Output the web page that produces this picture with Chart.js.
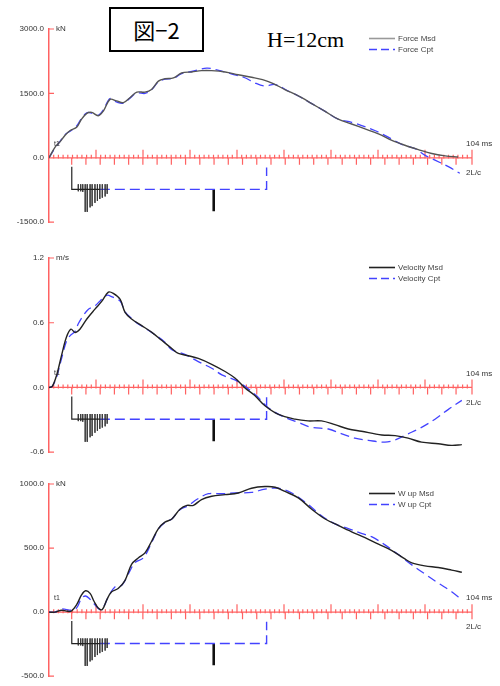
<!DOCTYPE html>
<html>
<head>
<meta charset="utf-8">
<script src="https://cdn.jsdelivr.net/npm/chart.js@4.4.1/dist/chart.umd.min.js"></script>
<style>
  body { margin: 0; background: #fff; width: 500px; height: 686px; position: relative; overflow: hidden; }
  canvas { position: absolute; left: 0; }
  #fig { position: absolute; left: 109px; top: 7px; width: 91px; height: 41px; border: 2px solid #000;
         font: 22px "Noto Sans CJK JP"; text-align: center; line-height: 41px; }
  #height { position: absolute; left: 267px; top: 27px; font: 22px "Liberation Serif"; color: #000; }
</style>
</head>
<body>
<div id="fig">図&#8722;2</div>
<div id="height">H=12cm</div>
<canvas id="force" width="500" height="232" style="top:0px"></canvas>
<canvas id="velocity" width="500" height="230" style="top:232px"></canvas>
<canvas id="wave" width="500" height="224" style="top:462px"></canvas>
<script>
const RED = '#ff6262';
const BLUE = '#4343ff';
const timeEnd = 104;

// Force (kN)
const forceMsdTime = [0,1.5,2.7,3.9,5.2,6.8,8.0,9.3,10.5,12.1,13.4,15.0,16.6,18.3,19.9,21.6,23.6,25.2,26.9,28.5,30.6,32.6,35.1,37.5,40.0,43.3,46.5,49.8,52.5,55.0,58.0,61.3,64.6,67.9,71.1,74.4,77.7,81.0,84.3,87.5,90.8,94.1,97.4,100.6];
const forceMsd = [0,250,370,520,635,710,900,1035,1057,980,1095,1360,1325,1285,1400,1530,1530,1590,1785,1840,1860,1975,2000,2030,2030,2000,1935,1875,1820,1735,1590,1440,1263,1080,900,788,673,558,406,292,191,99,46,20];
const forceCptTime = [0,1.5,2.7,3.9,5.2,6.8,8.0,9.3,10.5,12.1,13.4,15.0,16.6,18.3,19.9,21.6,23.6,25.2,26.9,28.5,30.6,32.6,35.1,38.8,41.5,45.0,48.0,50.6,53.1,55.6,58.8,61.3,64.6,67.9,71.1,74.4,76.9,80.1,83.4,86.7,90.0,92.4,94.9,98.2,101.0];
const forceCpt = [0,230,380,540,620,740,920,1050,1040,990,1120,1380,1300,1270,1390,1510,1500,1580,1770,1830,1850,1960,2010,2090,2040,1950,1870,1745,1670,1707,1555,1440,1263,1080,900,827,751,636,482,314,214,62,-53,-207,-360];

// Velocity (m/s)
const velMsdTime = [0,0.8,1.9,3.1,4.3,5.4,6.4,7.6,9.3,11.3,13.0,14.6,15.8,17.5,18.7,20.3,22.8,25.2,27.7,30.2,31.8,34.3,36.7,40.0,43.3,45.7,48.2,50.6,53.1,56.4,60.5,63.7,67.0,70.3,73.6,76.8,81.8,85.1,88.3,91.6,95.7,99.0,101.5];
const velMsd = [0,0.01,0.117,0.30,0.467,0.54,0.51,0.54,0.635,0.726,0.80,0.884,0.872,0.817,0.696,0.635,0.573,0.513,0.437,0.361,0.315,0.294,0.269,0.215,0.148,0.087,-0.005,-0.075,-0.17,-0.25,-0.294,-0.31,-0.31,-0.345,-0.385,-0.406,-0.44,-0.446,-0.47,-0.507,-0.522,-0.537,-0.53];
const velCptTime = [0,0.8,1.9,3.1,4.3,5.2,6.4,7.2,8.4,9.7,11.3,12.5,14.2,15.5,17.5,18.7,20.3,21.5,23.6,26.0,28.5,30.2,33.4,36.7,40.0,42.5,45.7,48.2,51.1,53.9,57.2,61.3,64.6,68.7,72.0,75.2,78.5,82.6,85.1,88.3,91.6,94.9,98.2,101.5];
const velCpt = [0,0.01,0.10,0.27,0.43,0.48,0.52,0.59,0.665,0.726,0.756,0.80,0.854,0.84,0.80,0.70,0.64,0.60,0.55,0.49,0.42,0.35,0.306,0.24,0.178,0.117,0.07,0.01,-0.08,-0.187,-0.263,-0.324,-0.37,-0.385,-0.43,-0.47,-0.49,-0.507,-0.486,-0.43,-0.37,-0.294,-0.203,-0.12];

// Wave up (kN)
const wupMsdTime = [0,1.5,3.1,4.3,5.5,6.8,8.0,9.0,10.1,11.1,12.1,13.1,14.2,15.4,17.0,18.7,20.3,22.0,23.6,25.2,26.9,28.5,30.2,32.2,33.9,35.5,37.5,40.0,43.3,46.5,49.8,53.1,55.6,58.0,61.3,64.6,67.9,71.1,74.4,77.7,81.0,84.3,87.5,89.2,92.4,95.7,99.0,101.5];
const wupMsd = [0,0,15,8,8,58,134,167,146,83,33,20,96,159,184,248,373,424,462,551,652,702,727,803,833,833,879,904,917,930,967,980,975,942,892,803,727,677,627,581,530,480,415,385,361,348,328,311];
const wupCptTime = [0,1.5,3.1,5.5,6.8,8.0,9.0,10.1,11.3,12.5,13.4,14.6,16.2,17.9,19.5,21.1,23.2,25.2,26.9,28.5,30.2,32.2,34.2,36.3,39.2,42.5,45.7,49.8,53.1,56.4,59.7,63.7,67.0,70.3,73.6,76.8,79.3,82.6,85.9,89.2,92.4,95.7,99.0,101.5];
const wupCpt = [0,0,25,15,33,108,126,101,58,20,40,121,197,210,298,386,424,540,650,700,727,800,830,879,924,924,930,934,960,967,930,841,752,689,652,614,589,525,449,369,298,227,159,96];

// pile / soil diagram under the axis, depth in units of one y-axis step
const diagramBlackTime = [5.6, 5.6, 12.5];
const diagramBlackDepth = [-0.14, -0.49, -0.49];
const diagramSoilTime = [12.5, 53.5, 53.5];
const diagramSoilDepth = [-0.49, -0.49, -0.15];
const hatchTime = [7.2,7.8,8.3,8.9,9.4,10.1,10.6,11.3,11.9,12.5,13.1,13.8,14.3];
const hatchTop = -0.41;
const hatchDepth = [-0.52,-0.52,-0.53,-0.84,-0.84,-0.77,-0.75,-0.70,-0.67,-0.64,-0.62,-0.60,-0.56];
const toeBarTime = 40.5;
const toeBarDepth = [-0.49, -0.83];

// ruler under the curves
const rulerMajor = 9, rulerMinor = 90;
const segStart = 5.58, segStep = 3.5;

function series(times, values) {
  return times.map((t, i) => ({x: t, y: values[i]}));
}

function diagramSets(step) {
  const s = d => d * step;
  const hatch = [];
  hatchTime.forEach((t, i) => {
    hatch.push({x: t, y: s(hatchTop)}, {x: t, y: s(hatchDepth[i])}, {x: t, y: null});
  });
  return [
    {data: series(diagramBlackTime, diagramBlackDepth.map(s)), borderColor: '#222', borderWidth: 1.2},
    {data: hatch, borderColor: '#333', borderWidth: 0.8, spanGaps: false},
    {data: series(diagramSoilTime, diagramSoilDepth.map(s)), borderColor: BLUE, borderWidth: 1.4, borderDash: [10, 5]},
    {data: series([toeBarTime, toeBarTime], toeBarDepth.map(s)), borderColor: '#111', borderWidth: 2.6},
  ].map(d => Object.assign({pointRadius: 0, tension: 0, fill: false}, d));
}

const rulerPlugin = {
  id: 'ruler',
  beforeDatasetsDraw(chart) {
    const {ctx, chartArea: a, scales: {x, y}} = chart;
    const y0 = y.getPixelForValue(0);
    ctx.save();
    ctx.strokeStyle = RED;
    ctx.lineWidth = 1.2;
    ctx.beginPath();
    ctx.moveTo(x.getPixelForValue(0), y0);
    ctx.lineTo(x.getPixelForValue(timeEnd), y0);
    for (let k = 1; k < rulerMinor; k++) {
      const px = x.getPixelForValue(k * timeEnd / rulerMinor);
      ctx.moveTo(px, y0 - 3); ctx.lineTo(px, y0 + 1);
    }
    for (let k = 1; k <= rulerMajor; k++) {
      const px = x.getPixelForValue(k * timeEnd / rulerMajor);
      ctx.moveTo(px, y0 - 8); ctx.lineTo(px, y0);
    }
    const pxEnd = x.getPixelForValue(timeEnd);
    ctx.moveTo(pxEnd, y0); ctx.lineTo(pxEnd, y0 + 7);
    for (let t = segStart; t < timeEnd - 0.5; t += segStep) {
      const px = x.getPixelForValue(t);
      ctx.moveTo(px, y0); ctx.lineTo(px, y0 + 7);
    }
    for (const tk of y.ticks) {
      const py = y.getPixelForValue(tk.value);
      ctx.moveTo(a.left, py); ctx.lineTo(a.left + 5, py);
    }
    ctx.stroke();
    ctx.restore();
  },
  afterDraw(chart, args, o) {
    const {ctx, chartArea: a, scales: {x, y}} = chart;
    const y0 = y.getPixelForValue(0);
    const xEnd = x.getPixelForValue(timeEnd);
    ctx.save();
    ctx.fillStyle = '#333';
    ctx.textBaseline = 'middle';
    ctx.font = '8px "Liberation Sans"';
    ctx.fillText(o.unit, a.left + 7, a.top);
    ctx.fillText('104 ms', xEnd - 6, y0 - 14);
    ctx.fillText('2L/c', xEnd - 6, y0 + 15);
    ctx.font = '7px "Liberation Sans"';
    ctx.fillText('t1', a.left + 5, y0 - 14);
    // legend
    const lx = a.right - 103;
    const rows = [
      {text: o.names[0], color: o.msdLegend, dash: [], width: 1.6},
      {text: o.names[1], color: BLUE, dash: [8, 4], width: 1.3},
    ];
    ctx.font = '8px "Liberation Sans"';
    rows.forEach((r, i) => {
      const ly = a.top + 9.5 + i * 11;
      ctx.strokeStyle = r.color;
      ctx.lineWidth = r.width;
      ctx.setLineDash(r.dash);
      ctx.beginPath();
      ctx.moveTo(lx, ly); ctx.lineTo(lx + 26, ly);
      ctx.stroke();
      ctx.fillStyle = '#444';
      ctx.fillText(r.text, lx + 29, ly);
    });
    ctx.restore();
  }
};

const panels = [
  {canvas: 'force', unit: 'kN', min: -1500, max: 3000, step: 1500, pad: {top: 29, bottom: 5},
   msdColor: '#555', msdLegend: '#999', names: ['Force Msd', 'Force Cpt'],
   msd: series(forceMsdTime, forceMsd), cpt: series(forceCptTime, forceCpt)},
  {canvas: 'velocity', unit: 'm/s', min: -0.6, max: 1.2, step: 0.6, pad: {top: 26, bottom: 6},
   msdColor: '#222', msdLegend: '#222', names: ['Velocity Msd', 'Velocity Cpt'],
   msd: series(velMsdTime, velMsd), cpt: series(velCptTime, velCpt)},
  {canvas: 'wave', unit: 'kN', min: -500, max: 1000, step: 500, pad: {top: 22, bottom: 4},
   msdColor: '#222', msdLegend: '#222', names: ['W up Msd', 'W up Cpt'],
   msd: series(wupMsdTime, wupMsd), cpt: series(wupCptTime, wupCpt)},
];

for (const p of panels) {
  new Chart(p.canvas, {
    type: 'line',
    data: {
      datasets: [
        ...diagramSets(p.step),
        {label: p.names[0], data: p.msd, borderColor: p.msdColor, borderWidth: 1.4,
         pointRadius: 0, tension: 0.35, fill: false},
        {label: p.names[1], data: p.cpt, borderColor: BLUE, borderWidth: 1.3, borderDash: [9, 5],
         pointRadius: 0, tension: 0.35, fill: false},
      ],
    },
    options: {
      responsive: false,
      animation: false,
      layout: {padding: {top: p.pad.top, bottom: p.pad.bottom, left: 0, right: 28}},
      scales: {
        x: {type: 'linear', min: 0, max: timeEnd, display: false},
        y: {
          min: p.min, max: p.max,
          afterFit: scale => { scale.width = 49; },
          ticks: {
            stepSize: p.step, padding: 5, color: '#333',
            font: {size: 8, family: 'Liberation Sans'},
            callback: v => Math.abs(v) < 1e-9 ? '0.0' : v.toFixed(1),
          },
          grid: {drawOnChartArea: false, drawTicks: false},
          border: {color: RED, width: 1.5},
        },
      },
      plugins: {
        legend: {display: false},
        tooltip: {enabled: false},
        ruler: {unit: p.unit, names: p.names, msdLegend: p.msdLegend},
      },
    },
    plugins: [rulerPlugin],
  });
}
</script>
</body>
</html>
